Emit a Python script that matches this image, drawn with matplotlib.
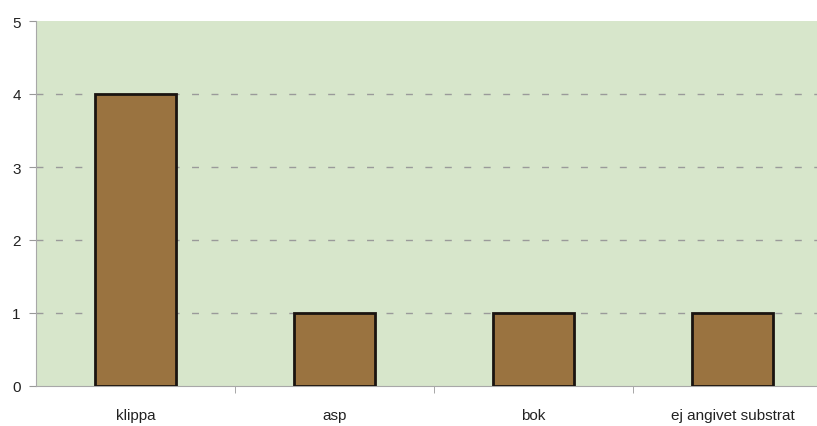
import matplotlib
matplotlib.use("Agg")
import matplotlib.pyplot as plt

# data
kategorier = ["klippa", "asp", "bok", "ej angivet substrat"]
antal = [4, 1, 1, 1]
y_ticks = [0, 1, 2, 3, 4, 5]

plt.rcParams['font.family'] = ['Liberation Sans Narrow', 'Liberation Sans', 'DejaVu Sans']

fig = plt.figure(figsize=(8.17, 4.27), dpi=100)
# plot area runs past the right edge, like the original crop
ax = fig.add_axes([36 / 817, 40 / 427, 796 / 817, 365 / 427])
ax.set_facecolor("#d7e6cb")

x = list(range(len(kategorier)))
ax.bar(x, antal, width=0.41, color="#9a7340", edgecolor="#1a1410", linewidth=2, zorder=3)

ax.set_xlim(-0.5, len(kategorier) - 0.5)
ax.set_ylim(0, 5)
ax.set_yticks(y_ticks)
for v in y_ticks[1:-1]:
    ax.axhline(v, color="#9a9a9a", linestyle=(0, (5, 9)), linewidth=1, zorder=1)

ax.set_xticks(x)
ax.set_xticklabels(kategorier, fontsize=11, color="#222222")
ax.tick_params(axis="x", length=0, pad=16)
ax.set_xticks([i + 0.5 for i in x[:-1]], minor=True)
ax.tick_params(axis="x", which="minor", length=5, color="#999999", direction="out")
ax.tick_params(axis="y", length=5, color="#999999", labelsize=11, labelcolor="#222222", pad=6)

for side in ["top", "right"]:
    ax.spines[side].set_visible(False)
ax.spines["left"].set_color("#a8a8a8")
ax.spines["bottom"].set_color("#a8a8a8")

fig.savefig("out.png", dpi=100)
